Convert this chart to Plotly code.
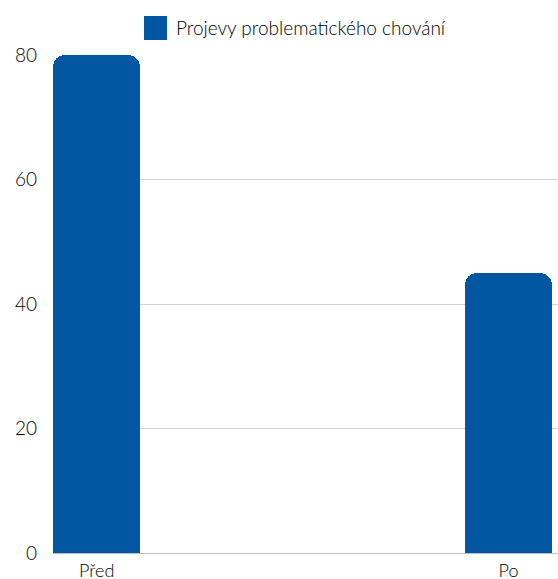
import plotly.graph_objects as go

# Problem behaviour counts before and after the intervention
categories = ["Před", "Po"]
values = [80, 45]
series_name = "Projevy problematického chování"
y_ticks = [0, 20, 40, 60, 80]

BLUE = "#0257a3"
FONT = "Lato"
TEXT = "#000000"

fig = go.Figure()
fig.add_trace(go.Bar(
    x=categories,
    y=values,
    name=series_name,
    marker=dict(color=BLUE, line=dict(width=0), cornerradius=12),
    width=0.21,
    showlegend=False,
))

# Legend drawn as a swatch plus label above the plot
fig.add_shape(type="rect", xref="paper", yref="paper",
              x0=(144 - 53) / 505, x1=(167 - 53) / 505,
              y0=1 + (55 - 40) / 498, y1=1 + (55 - 16) / 498,
              fillcolor=BLUE, line=dict(width=0))
fig.add_annotation(text=series_name, xref="paper", yref="paper",
                   x=(174 - 53) / 505, y=1 + (55 - 28) / 498,
                   xanchor="left", yanchor="middle", showarrow=False,
                   font=dict(family=FONT, size=19, color=TEXT, weight=300))

fig.update_layout(
    width=558, height=579,
    margin=dict(l=53, r=0, t=55, b=26),
    paper_bgcolor="white", plot_bgcolor="white",
    font=dict(family=FONT, size=18, color=TEXT, weight=300),
    bargap=0,
)
fig.update_xaxes(type="category", range=[-0.106, 1.12], showgrid=False,
                 ticks="", showline=False, zeroline=False,
                 tickfont=dict(size=18, weight=300), ticklabelstandoff=5,
                 automargin=False)
fig.update_yaxes(range=[0, 80], tickvals=y_ticks, showgrid=True,
                 gridcolor="#d4d4d4", gridwidth=1, zeroline=True,
                 zerolinecolor="#bdbdbd", zerolinewidth=1,
                 ticks="", showline=False, tickfont=dict(size=19, weight=300),
                 ticklabelstandoff=15, automargin=False)

fig.write_html("out.html")
